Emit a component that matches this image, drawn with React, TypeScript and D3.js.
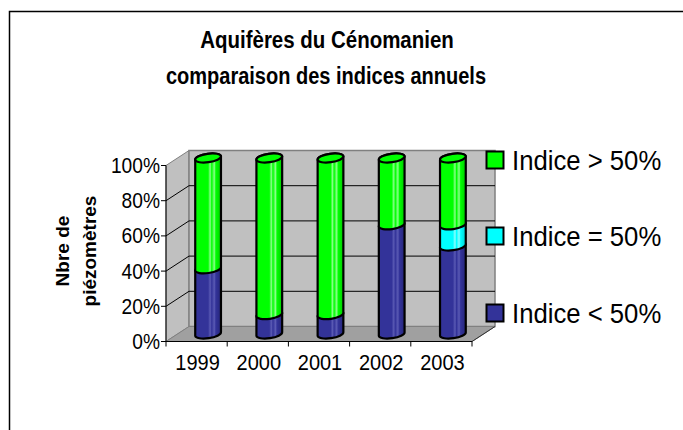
import React from "react";
import * as d3 from "d3";

// data (percent of piezometers per year)
const years = ["1999", "2000", "2001", "2002", "2003"];
const below50 = [37, 11, 11, 62, 50];
const equal50 = [0, 0, 0, 0, 12];
const above50 = [63, 89, 89, 38, 38];
const yTicks = [0, 20, 40, 60, 80, 100];
const seriesNames = ["Indice < 50%", "Indice = 50%", "Indice > 50%"];
const seriesColors = ["#333399", "#00ffff", "#00ff00"];
const seriesLight = ["#5a5ab4", "#8affff", "#8aff8a"];
const seriesDark = ["#26267a", "#00d0d0", "#00cc00"];

const W = 683;
const H = 430;
const font = "'Liberation Sans', Arial, sans-serif";

// front plane of the 3d box, and the depth offset
const left = 166;
const right = 472;
const bottom = 341.5;
const top = 165.5;
const DX = 23;
const DY = 15;

const RX = 13;
const RY = 4.2;
const TILT = -8;

const App: React.FC = () => {
  const x = d3.scaleBand<string>().domain(years).range([left, right]);
  const y = d3.scaleLinear().domain([0, 100]).range([bottom, top]);

  const series = [below50, equal50, above50];
  const rows = years.map((yr, i) => {
    const r: any = { year: yr };
    series.forEach((s, k) => (r["s" + k] = s[i]));
    return r;
  });
  const stacked = d3.stack<any>().keys(["s0", "s1", "s2"])(rows);

  const t = (Math.abs(TILT) * Math.PI) / 180;
  const ex = RX * Math.cos(t);
  const ey = RX * Math.sin(t);

  const cylPath = (cx: number, yb: number, yt: number) =>
    `M${cx - ex},${yt + ey} L${cx - ex},${yb + ey} ` +
    `A${RX},${RY} ${TILT} 0 0 ${cx + ex},${yb - ey} ` +
    `L${cx + ex},${yt - ey} ` +
    `A${RX},${RY} ${TILT} 0 0 ${cx - ex},${yt + ey} Z`;

  const bl = left + DX;
  const br = right + DX;
  const bb = bottom - DY;
  const bt = top - DY;

  const boundaries = d3.range(years.length + 1).map((i) => left + i * x.step());

  return (
    <div style={{ position: "absolute", left: 0, top: 0 }}>
      <svg width={W} height={H} style={{ display: "block", background: "#fff" }}>
        <defs>
          {seriesColors.map((c, k) => (
            <linearGradient key={k} id={"cyl" + k} x1="0" x2="1" y1="0" y2="0">
              <stop offset="0%" stopColor={c} />
              <stop offset="50%" stopColor={c} />
              <stop offset="58%" stopColor={seriesLight[k]} />
              <stop offset="64%" stopColor={c} />
              <stop offset="74%" stopColor={seriesLight[k]} />
              <stop offset="80%" stopColor={c} />
              <stop offset="100%" stopColor={seriesDark[k]} />
            </linearGradient>
          ))}
        </defs>

        {/* chart frame */}
        <rect x={9.5} y={11.5} width={720} height={500} fill="#fff" stroke="#000" strokeWidth={1.5} />

        {/* title, slightly condensed like the original */}
        <g fontFamily={font} fontWeight="bold" fontSize={23} textAnchor="middle">
          <text transform="translate(327,48) scale(0.89,1)">Aquifères du Cénomanien</text>
          <text transform="translate(326,84) scale(0.87,1)">comparaison des indices annuels</text>
        </g>

        {/* walls and floor */}
        <polygon
          points={`${left},${bottom} ${left},${top} ${bl},${bt} ${bl},${bb}`}
          fill="#c0c0c0"
          stroke="#808080"
        />
        <rect x={bl} y={bt} width={br - bl} height={bb - bt} fill="#c0c0c0" stroke="#808080" strokeWidth={1.5} />
        <polygon
          points={`${left},${bottom} ${right},${bottom} ${br},${bb} ${bl},${bb}`}
          fill="#a0a0a0"
          stroke="#808080"
        />

        {/* gridlines on back and side walls */}
        {yTicks.slice(1, -1).map((v) => (
          <g key={v}>
            <line x1={bl} x2={br} y1={y(v) - DY} y2={y(v) - DY} stroke="#000" />
            <line x1={left} x2={bl} y1={y(v)} y2={y(v) - DY} stroke="#000" />
          </g>
        ))}

        {/* cylinders */}
        {years.map((yr, i) => {
          const cx = (x(yr) as number) + x.bandwidth() / 2 + DX / 2;
          const segs = stacked
            .map((s, k) => ({ k, y0: s[i][0], y1: s[i][1] }))
            .filter((s) => s.y1 - s.y0 > 0);
          const last = segs[segs.length - 1];
          const yc = (v: number) => y(v) - DY / 2;
          return (
            <g key={yr}>
              {segs.map((s) => (
                <path
                  key={s.k}
                  d={cylPath(cx, yc(s.y0), yc(s.y1))}
                  fill={`url(#cyl${s.k})`}
                  stroke="#000"
                  strokeWidth={2.2}
                  strokeLinejoin="round"
                />
              ))}
              <ellipse
                cx={cx}
                cy={yc(last.y1)}
                rx={RX}
                ry={RY}
                transform={`rotate(${TILT},${cx},${yc(last.y1)})`}
                fill={seriesColors[last.k]}
                stroke="#000"
                strokeWidth={2.2}
              />
            </g>
          );
        })}

        {/* value axis */}
        <line x1={left} x2={left} y1={top} y2={bottom} stroke="#000" />
        {yTicks.map((v) => (
          <g key={v}>
            <line x1={left - 5} x2={left} y1={y(v)} y2={y(v)} stroke="#000" />
            <text transform={`translate(160,${y(v) + 7.5}) scale(0.96,1.06)`} textAnchor="end" fontFamily={font} fontSize={20}>
              {v}%
            </text>
          </g>
        ))}

        {/* category axis */}
        <line x1={left} x2={right} y1={bottom} y2={bottom} stroke="#000" />
        <line x1={right} x2={br} y1={bottom} y2={bb} stroke="#333" />
        {boundaries.map((bx, i) => (
          <line key={i} x1={bx} x2={bx} y1={bottom} y2={bottom + 5} stroke="#000" />
        ))}
        {years.map((yr) => (
          <text
            key={yr}
            transform={`translate(${(x(yr) as number) + x.bandwidth() / 2 + 1},370) scale(1,1.06)`}
            textAnchor="middle"
            fontFamily={font}
            fontSize={20}
          >
            {yr}
          </text>
        ))}

        {/* axis title */}
        <g fontFamily={font} fontWeight="bold" fontSize={19} textAnchor="middle">
          <text transform="translate(69,251) rotate(-90)">Nbre de</text>
          <text transform="translate(96,251) rotate(-90)">piézomètres</text>
        </g>

        {/* legend */}
        {[2, 1, 0].map((k, j) => {
          const ly = [160, 236, 313][j];
          return (
            <g key={k}>
              <rect x={486.5} y={ly - 8.5} width={17} height={17} fill={seriesColors[k]} stroke="#000" strokeWidth={2} />
              <text transform={`translate(512,${ly + 9.5}) scale(0.97,1.05)`} fontFamily={font} fontSize={26.5}>
                {seriesNames[k]}
              </text>
            </g>
          );
        })}
      </svg>
    </div>
  );
};

export default App;
